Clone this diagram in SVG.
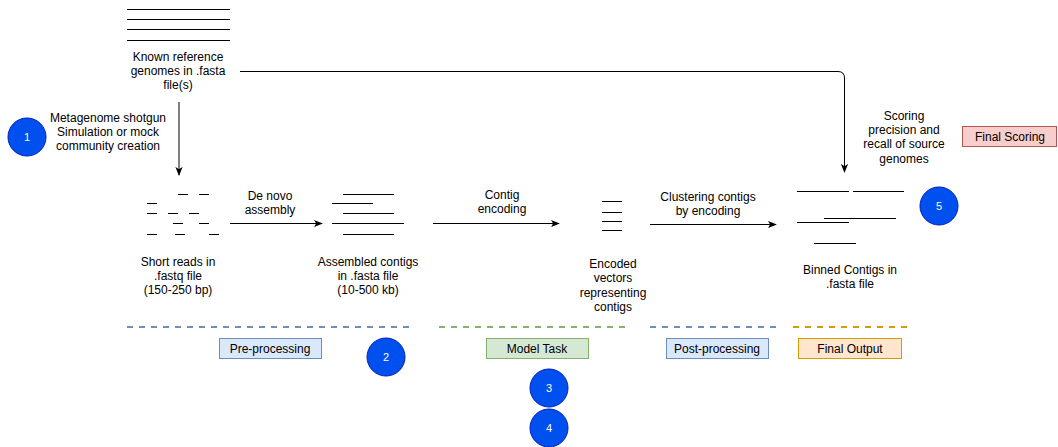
<svg xmlns="http://www.w3.org/2000/svg" width="1058" height="447" viewBox="0 0 1058 447">
<defs>
<style>
text{font-family:"Liberation Sans",Arial,Helvetica,sans-serif;font-size:12px;fill:#000;text-anchor:middle}
.seq{stroke:#000;stroke-width:1;fill:none}
.conn{stroke:#000;stroke-width:1;fill:none}
.num{fill:#0050ef;stroke:#001dbc;stroke-width:1}
.numt{fill:#fff;font-size:11px}
.dash{stroke-width:2;stroke-dasharray:6,6;fill:none}
.lbl{stroke-width:1}
</style>
<marker id="ah" viewBox="0 0 10 10" refX="9" refY="5" markerWidth="9" markerHeight="9" markerUnits="userSpaceOnUse" orient="auto">
<path d="M0,1 L10,5 L0,9 L2.5,5 Z" fill="#000"/>
</marker>
</defs>
<rect width="1058" height="447" fill="#fff"/>

<g id="reference-genomes">
<path class="seq" d="M127,9.5H230M127,19.5H230M127,29.5H230M127,40.5H230"/>
<text x="178" y="61">Known reference</text>
<text x="178" y="75">genomes in .fasta</text>
<text x="178" y="89">file(s)</text>
</g>

<g id="step1">
<circle class="num" cx="27" cy="137" r="19"/>
<text class="numt" x="27" y="141">1</text>
<text x="108" y="122">Metagenome shotgun</text>
<text x="108" y="136">Simulation or mock</text>
<text x="108" y="150">community creation</text>
</g>

<g id="short-reads">
<path class="seq" d="M178,194.5H188M199,194.5H209M147,203.5H157M147,213.5H157M168,213.5H178M189,213.5H199M173,223.5H183M199,223.5H209M147,234.5H157M175,234.5H185M209,234.5H219"/>
<text x="178" y="266">Short reads in</text>
<text x="178" y="280">.fastq file</text>
<text x="178" y="294">(150-250 bp)</text>
</g>

<g id="assembled-contigs">
<path class="seq" d="M343,194.5H394M332,203.5H373M343,213.5H394M332,223.5H404M343,234.5H394"/>
<text x="368" y="266">Assembled contigs</text>
<text x="368" y="280">in .fasta file</text>
<text x="368" y="294">(10-500 kb)</text>
</g>

<g id="encoded-vectors">
<path class="seq" d="M602,201.5H622M602,212.5H622M602,221.5H622M602,230.5H622"/>
<text x="613" y="268">Encoded</text>
<text x="613" y="282">vectors</text>
<text x="613" y="297">representing</text>
<text x="613" y="311">contigs</text>
</g>

<g id="binned-contigs">
<path class="seq" d="M797,191.5H849M853,191.5H904M824,218.5H896M797,222.5H849M814,243.5H856"/>
<text x="850" y="274">Binned Contigs in</text>
<text x="850" y="288">.fasta file</text>
</g>

<g id="scoring">
<text x="904" y="120">Scoring</text>
<text x="904" y="134">precision and</text>
<text x="904" y="148">recall of source</text>
<text x="904" y="163">genomes</text>
</g>

<g id="final-scoring">
<rect x="962.5" y="126.5" width="94" height="20" fill="#f8cecc" stroke="#b85450" class="lbl"/>
<text x="1010" y="141">Final Scoring</text>
</g>

<g id="step5">
<circle class="num" cx="939" cy="206" r="19"/>
<text class="numt" x="939" y="210">5</text>
</g>

<g id="connectors">
<path class="conn" d="M179,102V175" marker-end="url(#ah)"/>
<path class="conn" d="M240,71.5H838Q844.5,71.5 844.5,78V172" marker-end="url(#ah)"/>
<path class="conn" d="M230,223.5H322" marker-end="url(#ah)"/>
<text x="270" y="200">De novo</text>
<text x="270" y="214">assembly</text>
<path class="conn" d="M433,223.5H559" marker-end="url(#ah)"/>
<text x="502" y="199">Contig</text>
<text x="502" y="213">encoding</text>
<path class="conn" d="M650,224.5H776" marker-end="url(#ah)"/>
<text x="708" y="201">Clustering contigs</text>
<text x="708" y="215">by encoding</text>
</g>

<g id="pre-processing">
<path class="dash" stroke="#6c8ebf" d="M127,327H415"/>
<rect x="219.5" y="338.5" width="102" height="20" fill="#dae8fc" stroke="#6c8ebf" class="lbl"/>
<text x="270" y="353">Pre-processing</text>
</g>

<g id="step2">
<circle class="num" cx="386" cy="357" r="19"/>
<text class="numt" x="386" y="361">2</text>
</g>

<g id="model-task">
<path class="dash" stroke="#82b366" d="M439,327H631"/>
<rect x="486.5" y="338.5" width="102" height="20" fill="#d5e8d4" stroke="#82b366" class="lbl"/>
<text x="537" y="353">Model Task</text>
</g>

<g id="step3">
<circle class="num" cx="549" cy="388" r="19"/>
<text class="numt" x="549" y="392">3</text>
</g>
<g id="step4">
<circle class="num" cx="549" cy="428" r="19"/>
<text class="numt" x="549" y="432">4</text>
</g>

<g id="post-processing">
<path class="dash" stroke="#6c8ebf" d="M650,327H781"/>
<rect x="666.5" y="338.5" width="102" height="20" fill="#dae8fc" stroke="#6c8ebf" class="lbl"/>
<text x="717" y="353">Post-processing</text>
</g>

<g id="final-output">
<path class="dash" stroke="#d79b00" d="M793,327H910"/>
<rect x="798.5" y="338.5" width="103" height="20" fill="#ffe6cc" stroke="#d79b00" class="lbl"/>
<text x="850" y="353">Final Output</text>
</g>
</svg>
